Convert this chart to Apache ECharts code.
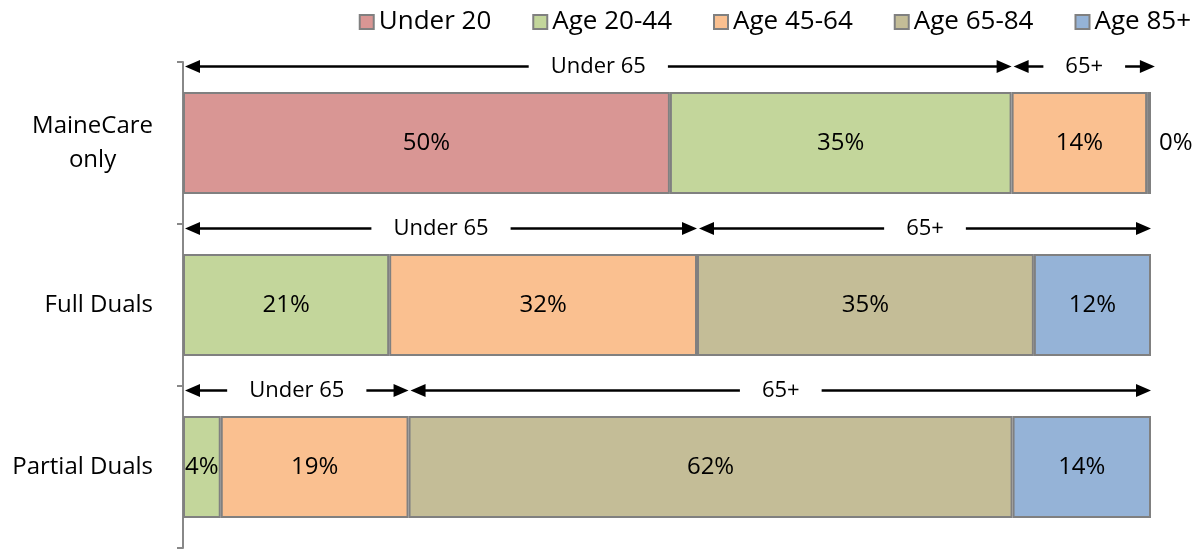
<!DOCTYPE html>
<html>
<head>
<meta charset="utf-8">
<script src="https://cdn.jsdelivr.net/npm/echarts@6/dist/echarts.min.js"></script>
<style>html,body{margin:0;padding:0;background:#fff;}#c{width:1204px;height:550px;}</style>
</head>
<body>
<div id="c"></div>
<script>
var categories = ['MaineCare only', 'Full Duals', 'Partial Duals'];
var seriesNames = ['Under 20', 'Age 20-44', 'Age 45-64', 'Age 65-84', 'Age 85+'];
var under20 = [50.3, null, null];
var age20_44 = [35.3, 21.3, 3.9];
var age45_64 = [14.0, 31.8, 19.4];
var age65_84 = [0.4, 34.8, 62.4];
var age85plus = [null, 12.1, 14.3];
var colors = ['#D99694', '#C3D69B', '#FAC090', '#C4BD97', '#95B3D7'];

var bracketCategory = [0, 0, 1, 1, 2, 2];
var bracketStart = [0, 85.6, 0, 53.1, 0, 23.3];
var bracketEnd = [85.6, 100.4, 53.1, 100, 23.3, 100];
var bracketLabel = ['Under 65', '65+', 'Under 65', '65+', 'Under 65', '65+'];

var FONT = '"Open Sans", "Liberation Sans", sans-serif';
var values = [under20, age20_44, age45_64, age65_84, age85plus];

var series = values.map(function (arr, i) {
  return {
    name: seriesNames[i],
    type: 'bar',
    stack: 'total',
    barWidth: 102,
    itemStyle: { color: colors[i], borderColor: '#808080', borderWidth: 2 },
    label: {
      show: true,
      position: 'inside',
      color: '#000',
      fontSize: 24,
      fontFamily: FONT,
      formatter: function (p) { return Math.round(p.value) + '%'; }
    },
    data: arr.map(function (v, j) {
      if (i === 3 && j === 0) {
        return { value: v, label: { position: 'right', distance: 8 } };
      }
      return v;
    })
  };
});

var bracketData = bracketCategory.map(function (c, i) {
  return [bracketStart[i], bracketEnd[i], c];
});

series.push({
  type: 'custom',
  name: 'brackets',
  coordinateSystem: 'cartesian2d',
  clip: false,
  silent: true,
  encode: { x: [0, 1], y: 2 },
  data: bracketData,
  z: 5,
  renderItem: function (params, api) {
    var s = api.value(0), e = api.value(1), c = api.value(2);
    var p1 = api.coord([s, c]), p2 = api.coord([e, c]);
    var band = api.size([0, 1])[1];
    var y = Math.round(p1[1] - band * 0.477) + 0.5;
    var x1 = p1[0] + 2, x2 = p2[0];
    var ah = 15, aw = 6.5;
    return {
      type: 'group',
      children: [
        { type: 'line', shape: { x1: x1 + ah - 1, y1: y, x2: x2 - ah + 1, y2: y }, style: { stroke: '#000', lineWidth: 2.5 } },
        { type: 'polygon', shape: { points: [[x1, y], [x1 + ah, y - aw], [x1 + ah, y + aw]] }, style: { fill: '#000' } },
        { type: 'polygon', shape: { points: [[x2, y], [x2 - ah, y - aw], [x2 - ah, y + aw]] }, style: { fill: '#000' } },
        { type: 'text', x: (x1 + x2) / 2, y: y, style: { text: bracketLabel[params.dataIndex], align: 'center', verticalAlign: 'middle', fill: '#000', font: '22px ' + FONT, backgroundColor: '#fff', padding: [2, 22] } }
      ]
    };
  }
});

var chart = echarts.init(document.getElementById('c'), null, { renderer: 'canvas' });
chart.setOption({
  animation: false,
  backgroundColor: '#fff',
  legend: {
    data: seriesNames,
    right: 8,
    top: 4,
    itemWidth: 14,
    itemHeight: 14,
    itemGap: 41,
    icon: 'rect',
    textStyle: { fontSize: 26, fontFamily: FONT, color: '#000' }
  },
  grid: { left: 183, right: 53, top: 62, bottom: 2, containLabel: false },
  xAxis: { type: 'value', min: 0, max: 100, show: false },
  yAxis: {
    type: 'category',
    inverse: true,
    data: categories,
    axisLine: { show: true, lineStyle: { color: '#888', width: 2 } },
    axisTick: { show: true, length: 6, lineStyle: { color: '#888', width: 2 } },
    axisLabel: {
      margin: 30,
      align: 'right',
      color: '#000',
      fontSize: 24,
      fontFamily: FONT,
      lineHeight: 34,
      formatter: function (v) {
        if (v === 'MaineCare only') return '{c|MaineCare}\n{c|only}';
        return v;
      },
      rich: { c: { align: 'center', fontSize: 24, fontFamily: FONT, color: '#000', lineHeight: 34 } }
    }
  },
  series: series
});
</script>
</body>
</html>
